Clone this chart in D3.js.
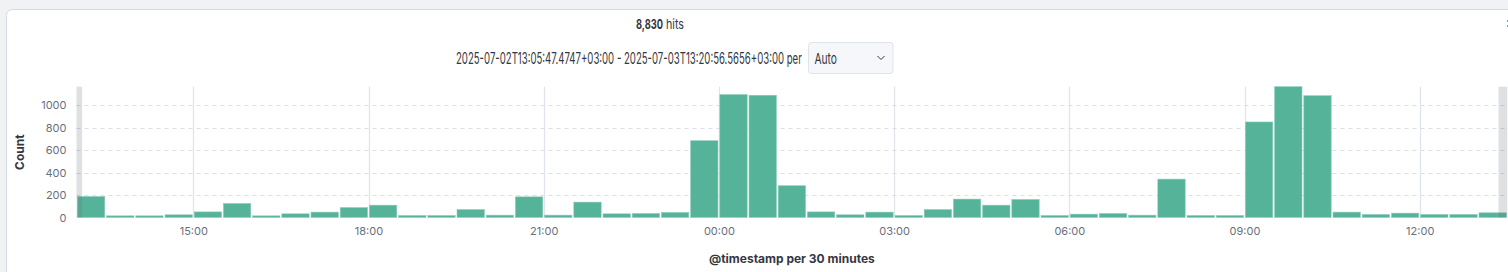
<!DOCTYPE html>
<html>
<head>
<meta charset="utf-8">
<script src="https://cdn.jsdelivr.net/npm/d3@7"></script>
<style>
  body { margin: 0; background: #f1f2f4; font-family: Inter, "Noto Sans", sans-serif; }
  #chart { position: absolute; left: 0; top: 0; }
  .tick text { fill: #69707d; font-size: 11px; font-family: Inter, sans-serif; }
</style>
</head>
<body>
<div id="chart"></div>
<script>
// 30 minute buckets starting 2025-07-02 13:00
let bucketStart = new Date(2025, 6, 2, 13, 0)
let bucketMinutes = 30
let counts = [187, 15, 15, 24, 50, 125, 15, 33, 48, 89, 110, 18, 18, 71, 21, 184,
  21, 137, 33, 36, 45, 684, 1095, 1089, 283, 50, 24, 48, 18, 71, 164, 110, 161,
  18, 30, 36, 21, 342, 18, 18, 851, 1165, 1085, 48, 27, 39, 27, 27, 42]
let yTicks = [0, 200, 400, 600, 800, 1000]
let dataStart = new Date(2025, 6, 2, 13, 5, 47)
let dataEnd = new Date(2025, 6, 3, 13, 20, 56)
let totalHits = "8,830"
let rangeLabel = "2025-07-02T13:05:47.4747+03:00 - 2025-07-03T13:20:56.5656+03:00 per"

let bars = counts.map((c, i) => ({
  start: d3.timeMinute.offset(bucketStart, i * bucketMinutes),
  end: d3.timeMinute.offset(bucketStart, (i + 1) * bucketMinutes),
  count: c
}))

let W = 1508, H = 272
let plot = {left: 76.5, right: 1507.3, top: 86.7, bottom: 217.5}

let xScale = d3.scaleTime()
    .domain([bucketStart, bars[bars.length - 1].end])
    .range([plot.left, plot.right])

let yScale = d3.scaleLinear()
    .domain([0, d3.max(counts)])
    .range([plot.bottom, plot.top])

let svg = d3.select("#chart").append("svg")
    .attr("width", W)
    .attr("height", H)

// squeeze a text horizontally so it spans the given width (the UI font is narrow)
function narrowText(x, y, size, width, str, weight) {
  let t = svg.append("text")
    .attr("font-size", size)
    .attr("font-weight", weight || 400)
    .attr("fill", "#343741")
    .text(str)
  let k = width / t.node().getComputedTextLength()
  t.attr("transform", "translate(" + x + "," + y + ") scale(" + k + ",1)")
  return t
}

// panel
svg.append("rect")
  .attr("x", 6.5).attr("y", 9.5)
  .attr("width", W + 20).attr("height", H + 20)
  .attr("rx", 6)
  .attr("fill", "#fff")
  .attr("stroke", "#d3dae6")

// header
narrowText(636, 29.3, 13.5, 27, totalHits, 700)
narrowText(666, 29.3, 13.5, 18, "hits")
narrowText(456, 64, 16, 346, rangeLabel)

let sel = svg.append("g").attr("transform", "translate(808.5,42.5)")
sel.append("rect")
  .attr("width", 84.5).attr("height", 31)
  .attr("rx", 3)
  .attr("fill", "#f5f7fa")
  .attr("stroke", "#dfe3ea")
narrowText(814.5, 63.5, 15, 22.5, "Auto")
sel.append("path")
  .attr("d", "M69,13.5 L72.5,17 L76,13.5")
  .attr("fill", "none")
  .attr("stroke", "#343741")
  .attr("stroke-width", 1)

// partial icon at the far right
svg.append("rect").attr("x", 1507).attr("y", 20).attr("width", 2).attr("height", 2).attr("fill", "#54b399")
svg.append("rect").attr("x", 1507).attr("y", 25).attr("width", 2).attr("height", 2).attr("fill", "#54b399")

// grid: vertical lines at the x ticks
let xTicks = xScale.ticks(d3.timeHour.every(3))
svg.append("g")
  .selectAll("line")
  .data(xTicks)
  .enter().append("line")
  .attr("x1", d => Math.round(xScale(d)) + 0.5)
  .attr("x2", d => Math.round(xScale(d)) + 0.5)
  .attr("y1", plot.top)
  .attr("y2", plot.bottom)
  .attr("stroke", "#e0e4ec")
  .attr("stroke-width", 1.3)

// horizontal dashed grid
svg.append("g")
  .selectAll("line")
  .data(yTicks.filter(d => d > 0))
  .enter().append("line")
  .attr("x1", plot.left)
  .attr("x2", plot.right)
  .attr("y1", d => Math.round(yScale(d)) + 0.5)
  .attr("y2", d => Math.round(yScale(d)) + 0.5)
  .attr("stroke", "#d9dee7")
  .attr("stroke-dasharray", "4,4")

// bars
svg.append("g")
  .selectAll("rect")
  .data(bars)
  .enter().append("rect")
  .attr("x", d => xScale(d.start) + 0.9)
  .attr("width", d => xScale(d.end) - xScale(d.start) - 1.8)
  .attr("y", d => yScale(d.count))
  .attr("height", d => Math.max(plot.bottom - yScale(d.count), 1.5))
  .attr("fill", "#54b399")
  .attr("stroke", "#8fcfbd")
  .attr("stroke-width", 0.6)

// out of range shading
svg.append("g")
  .selectAll("rect")
  .data([[bucketStart, dataStart], [dataEnd, bars[bars.length - 1].end]])
  .enter().append("rect")
  .attr("x", d => xScale(d[0]))
  .attr("width", d => xScale(d[1]) - xScale(d[0]))
  .attr("y", plot.top)
  .attr("height", plot.bottom - plot.top)
  .attr("fill", "#69707d")
  .attr("fill-opacity", 0.22)

// axes
let xAxis = d3.axisBottom(xScale)
    .tickValues(xTicks)
    .tickFormat(d3.timeFormat("%H:%M"))
    .tickSize(0)
    .tickPadding(10)

svg.append("g")
  .attr("transform", "translate(0," + plot.bottom + ")")
  .call(xAxis)
  .call(g => g.select(".domain").remove())

let yAxis = d3.axisLeft(yScale)
    .tickValues(yTicks)
    .tickFormat(d3.format("d"))
    .tickSize(0)
    .tickPadding(10)

svg.append("g")
  .attr("transform", "translate(" + plot.left + ",0)")
  .call(yAxis)
  .call(g => g.select(".domain").remove())

// axis titles
svg.append("text")
  .attr("x", (plot.left + plot.right) / 2)
  .attr("y", 263)
  .attr("text-anchor", "middle")
  .attr("font-size", 12)
  .attr("font-weight", 700)
  .attr("fill", "#343741")
  .text("@timestamp per 30 minutes")

svg.append("text")
  .attr("transform", "translate(24," + ((plot.top + plot.bottom) / 2) + ") rotate(-90)")
  .attr("text-anchor", "middle")
  .attr("font-size", 12)
  .attr("font-weight", 700)
  .attr("fill", "#343741")
  .text("Count")
</script>
</body>
</html>
